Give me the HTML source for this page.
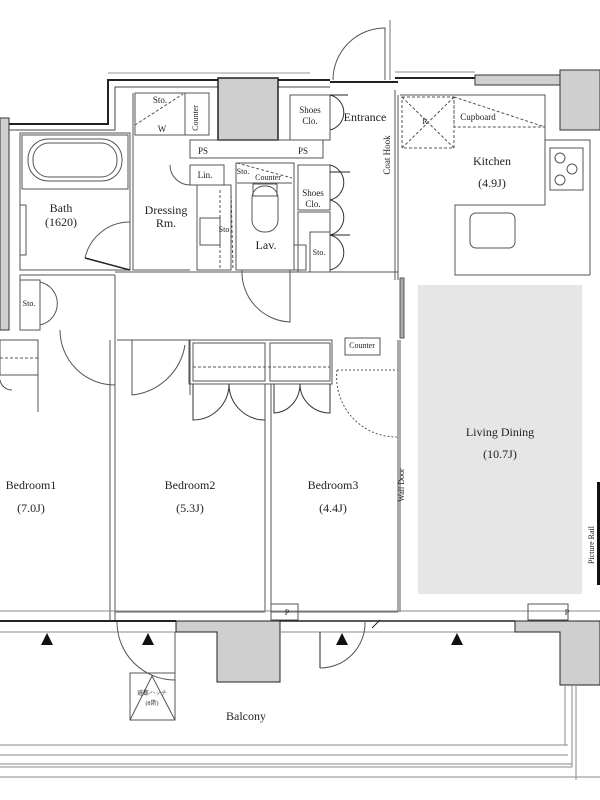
<!DOCTYPE html>
<html><head><meta charset="utf-8"><style>
html,body{margin:0;padding:0;background:#fff;width:600px;height:800px;overflow:hidden}
svg text{font-family:"Liberation Serif","Noto Serif CJK SC",serif;fill:#222}
</style></head><body>
<svg width="600" height="800" viewBox="0 0 600 800" xmlns="http://www.w3.org/2000/svg">
<g fill="none" stroke="#555" stroke-width="1">
<rect x="418" y="285" width="164" height="309" fill="#e6e6e6" stroke="none"/>
<rect x="0" y="118" width="9" height="212" fill="#d0d0d0" stroke="#333"/>
<path d="M9 124 H108 V80 H330" stroke="#222" stroke-width="2"/>
<path d="M9 130 H115 V87 H330" stroke="#444"/>
<path d="M108 73 H310" stroke="#999"/>
<rect x="218" y="78" width="60" height="62" fill="#cfcfcf" stroke="#222" stroke-width="1.5"/>
<path d="M333 80 A52 52 0 0 1 385 28 V80" />
<path d="M390 20 V80" stroke="#777"/>
<path d="M330 82 H398" stroke="#222" stroke-width="2"/>
<path d="M395 78 H475" stroke="#222" stroke-width="2"/><path d="M395 72 H475" stroke="#888"/>
<rect x="475" y="75" width="85" height="10" fill="#cfcfcf" stroke="#333"/>
<rect x="560" y="70" width="40" height="60" fill="#cfcfcf" stroke="#333"/>
<rect x="20" y="133" width="110" height="137"/>
<rect x="22" y="135" width="106" height="54"/>
<rect x="28" y="139" width="94" height="42" rx="20"/>
<rect x="33" y="143" width="84" height="34" rx="16"/>
<rect x="20" y="205" width="6" height="50"/>
<path d="M130 270 L85 258" stroke="#222" stroke-width="1.5"/>
<path d="M85 258 A46 46 0 0 1 130 222"/>
<rect x="135" y="93" width="74" height="42"/>
<path d="M135 125 L183 94" stroke-dasharray="3 2"/>
<rect x="185" y="93" width="24" height="42"/>
<path d="M133 93 V270 H190"/>
<path d="M190 140 H323 V158 H190 Z"/>
<rect x="190" y="165" width="34" height="20"/>
<path d="M170 165 A20 20 0 0 0 190 185"/>
<rect x="197" y="185" width="34" height="85"/>
<rect x="200" y="218" width="20" height="27"/>
<path d="M220 190 V270 M231 190 L233 270" stroke-dasharray="3 2"/>
<rect x="236" y="163" width="58" height="107"/>
<path d="M237 163 L292 178" stroke-dasharray="3 2"/>
<path d="M237 183 H292"/>
<rect x="252" y="186" width="26" height="46" rx="12"/>
<rect x="253" y="184" width="24" height="12"/>
<rect x="294" y="245" width="12" height="25"/>
<rect x="290" y="95" width="40" height="45"/>
<rect x="298" y="165" width="32" height="45"/>
<rect x="298" y="212" width="32" height="60"/>
<rect x="310" y="232" width="20" height="40"/>
<path d="M330 95 A18 18 0 0 1 330 130 M330 165 A18 18 0 0 1 330 200 M330 200 A18 18 0 0 1 330 235 M330 235 A18 18 0 0 1 330 270" stroke="#333"/>
<path d="M330 95 H348 M330 172 H350 M330 235 H350" stroke="#222"/>
<path d="M242 270 A50 50 0 0 0 290 322 V270" />
<path d="M115 272 H398 M115 275 V335"/>
<path d="M395 90 V280 M398 95 V280" />
<rect x="400" y="278" width="4" height="60" fill="#aaa" stroke="#555"/>
<path d="M400 95 H545 V145"/>
<rect x="402" y="97" width="52" height="51" stroke-dasharray="3 2"/>
<path d="M402 97 L454 148 M454 97 L402 148" stroke-dasharray="3 2"/>
<path d="M454 97 L545 127 H454 Z" stroke-dasharray="3 2"/>
<path d="M545 140 H590 V275 M545 140 V205 H455 V275 H590"/>
<rect x="550" y="148" width="33" height="42"/>
<circle cx="560" cy="158" r="5"/><circle cx="572" cy="169" r="5"/><circle cx="560" cy="180" r="5"/>
<rect x="470" y="213" width="45" height="35" rx="6"/>
<path d="M20 275 H115 M20 275 V330" />
<rect x="20" y="280" width="20" height="50"/>
<path d="M40 282 A22 22 0 0 1 40 325"/>
<path d="M115 335 V620 M110 340 V620" />
<path d="M60 330 A55 55 0 0 0 115 385" />
<rect x="0" y="340" width="38" height="35"/>
<path d="M0 358 H38" stroke-dasharray="3 2"/>
<path d="M0 380 A12 12 0 0 0 12 390 M38 375 V412" />
<path d="M117 340 H190 V395" />
<path d="M132 340 V395 A60 60 0 0 0 185 345"/>
<rect x="189" y="340" width="143" height="44"/>
<rect x="193" y="343" width="72" height="38"/>
<rect x="270" y="343" width="60" height="38"/>
<path d="M193 367 H330" stroke-dasharray="3 2"/>
<path d="M193 384 V420 A36 36 0 0 0 229 384 A36 36 0 0 0 265 420 V384" stroke="#333"/>
<path d="M274 384 V413 A27 29 0 0 0 300 384 A30 29 0 0 0 330 413 V384" stroke="#333"/>
<path d="M265 384 V612 M271 384 V612"/>
<rect x="345" y="338" width="35" height="17"/>
<path d="M337 370 H398 M337 370 A60 60 0 0 0 397 437" stroke-dasharray="2 2"/>
<path d="M398 340 V612 M400 340 V612" stroke="#555"/>
<path d="M0 611 H600" stroke="#888"/>
<path d="M0 621 H176" stroke="#222" stroke-width="2"/>
<path d="M0 632 H176" stroke="#888"/>
<path d="M115 612 H265 M271 612 H398" stroke="#666"/>
<rect x="271" y="604" width="27" height="16"/>
<rect x="528" y="604" width="40" height="16"/>
<path d="M176 621 H280 V682 H217 V632 H176 Z" fill="#cfcfcf" stroke="#222"/>
<path d="M280 621 H515" stroke="#222" stroke-width="1.5"/>
<path d="M280 632 H515" stroke="#888"/>
<path d="M320 632 V668" stroke="#222"/>
<path d="M515 621 H600 V685 H560 V632 H515 Z" fill="#cfcfcf" stroke="#222"/>
<path d="M117 622 A58 58 0 0 0 175 680 V632"/>
<path d="M320 668 A45 45 0 0 0 365 622"/>
<path d="M372 628 L380 620" stroke="#222"/>
<rect x="130" y="673" width="45" height="47"/>
<path d="M130 720 L152 676 L175 720"/>
<path d="M0 745 H568 M0 755 H568 M0 764 H572 M0 767 H572 M0 777 H600" stroke="#888"/>
<path d="M565 685 V745 M572 685 V767 M576 685 V780" stroke="#888"/>
</g>
<g fill="#111">
<polygon points="47,633 41,645 53,645"/><polygon points="148,633 142,645 154,645"/>
<polygon points="342,633 336,645 348,645"/><polygon points="457,633 451,645 463,645"/>
<rect x="597" y="482" width="3" height="103"/>
</g>
<g font-size="9" text-anchor="middle">
<text x="160" y="103">Sto.</text><text x="162" y="132">W</text>
<text x="198" y="118" transform="rotate(-90 198 118)" font-size="8">Counter</text>
<text x="203" y="154">PS</text><text x="303" y="154">PS</text>
<text x="205" y="178">Lin.</text>
<text x="243" y="174" font-size="8">Sto.</text><text x="268" y="180" font-size="8">Counter</text>
<text x="224" y="232" font-size="8">Sto</text>
<text x="310" y="113">Shoes</text><text x="310" y="124">Clo.</text>
<text x="313" y="196">Shoes</text><text x="313" y="207">Clo.</text>
<text x="319" y="255" font-size="8">Sto.</text>
<text x="29" y="306" font-size="8">Sto.</text>
<text x="478" y="120">Cupboard</text><text x="425" y="124" font-size="8">R</text>
<text x="390" y="155" transform="rotate(-90 390 155)">Coat Hook</text>
<text x="362" y="348" font-size="8">Counter</text>
<text x="404" y="485" transform="rotate(-90 404 485)" font-size="8">Wall Door</text>
<text x="594" y="545" transform="rotate(-90 594 545)" font-size="8">Picture Rail</text>
<text x="287" y="615" font-size="8">P</text><text x="567" y="615" font-size="8">P</text>
<text x="152" y="695" font-size="6">避難ハッチ</text><text x="152" y="705" font-size="6">(8階)</text>
</g>
<g font-size="12" text-anchor="middle">
<text x="365" y="121">Entrance</text>
<text x="61" y="212">Bath</text><text x="61" y="226">(1620)</text>
<text x="166" y="214">Dressing</text><text x="166" y="227">Rm.</text>
<text x="266" y="249">Lav.</text>
<text x="492" y="165">Kitchen</text><text x="492" y="187">(4.9J)</text>
<text x="500" y="436">Living Dining</text><text x="500" y="458">(10.7J)</text>
<text x="31" y="489">Bedroom1</text><text x="31" y="512">(7.0J)</text>
<text x="190" y="489">Bedroom2</text><text x="190" y="512">(5.3J)</text>
<text x="333" y="489">Bedroom3</text><text x="333" y="512">(4.4J)</text>
<text x="246" y="720">Balcony</text>
</g>
</svg>
</body></html>
